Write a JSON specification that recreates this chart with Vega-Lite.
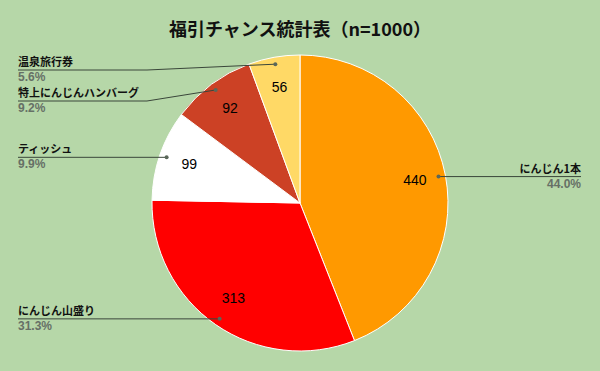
{
  "$schema": "https://vega.github.io/schema/vega-lite/v6.json",
  "width": 600,
  "height": 371,
  "autosize": {"type": "fit", "contains": "padding"},
  "padding": {"top": 22, "left": 0, "right": 0, "bottom": 0},
  "background": "#b6d7a8",
  "title": {"text": "福引チャンス統計表（n=1000）", "fontSize": 18, "fontWeight": "bold", "font": "Noto Sans CJK JP", "color": "#111111", "offset": -5},
  "config": {"view": {"stroke": null}},
  "data": {"values": [
    {"k": 1, "item": "にんじん1本", "value": 440},
    {"k": 2, "item": "にんじん山盛り", "value": 313},
    {"k": 3, "item": "ティッシュ", "value": 99},
    {"k": 4, "item": "特上にんじんハンバーグ", "value": 92},
    {"k": 5, "item": "温泉旅行券", "value": 56}
  ]},
  "transform": [
    {"joinaggregate": [{"op": "sum", "field": "value", "as": "total"}]},
    {"window": [{"op": "sum", "field": "value", "as": "cum"}], "sort": [{"field": "k"}], "frame": [null, 0]},
    {"calculate": "(datum.cum - datum.value/2)/datum.total*2*PI", "as": "mid"},
    {"calculate": "datum.value/datum.total", "as": "pct"},
    {"calculate": "141*sin(datum.mid)", "as": "dx"},
    {"calculate": "141*cos(datum.mid)", "as": "dy"},
    {"calculate": "min(datum.dy, 133)", "as": "cl"},
    {"window": [{"op": "lag", "field": "cl", "as": "upcl"}, {"op": "lag", "field": "dx", "as": "updx"}], "sort": [{"field": "k", "order": "descending"}]},
    {"calculate": "datum.upcl != null && datum.dx < 0 && datum.updx < 0 ? min(datum.cl, datum.upcl - 31) : datum.cl", "as": "ly"},
    {"calculate": "datum.dx > 0 ? 153 : -153", "as": "ex"},
    {"calculate": "datum.dx > 0 ? 281 : -282", "as": "tx"}
  ],
  "layer": [
    {
      "mark": {"type": "arc", "outerRadius": 148, "stroke": "#ffffff", "strokeWidth": 1},
      "encoding": {
        "theta": {"field": "value", "type": "quantitative", "stack": true},
        "order": {"field": "k", "type": "quantitative"},
        "color": {"field": "item", "type": "nominal", "legend": null,
          "scale": {"domain": ["にんじん1本", "にんじん山盛り", "ティッシュ", "特上にんじんハンバーグ", "温泉旅行券"],
                    "range": ["#ff9900", "#ff0000", "#ffffff", "#cc4125", "#ffd966"]}}
      }
    },
    {
      "mark": {"type": "text", "radius": 117, "fontSize": 14, "font": "Liberation Sans", "color": "#000000"},
      "encoding": {
        "theta": {"field": "value", "type": "quantitative", "stack": true},
        "order": {"field": "k", "type": "quantitative"},
        "text": {"field": "value", "type": "quantitative"}
      }
    },
    {
      "mark": {"type": "rule", "color": "#3a463a", "strokeWidth": 1},
      "encoding": {
        "x": {"field": "dx", "type": "quantitative", "scale": {"domain": [-300, 300], "nice": false, "zero": false}, "axis": null},
        "y": {"field": "dy", "type": "quantitative", "scale": {"domain": [-168, 168], "nice": false, "zero": false}, "axis": null},
        "x2": {"field": "ex"},
        "y2": {"field": "ly"}
      }
    },
    {
      "mark": {"type": "rule", "color": "#3a463a", "strokeWidth": 1},
      "encoding": {
        "x": {"field": "ex", "type": "quantitative", "scale": {"domain": [-300, 300], "nice": false, "zero": false}, "axis": null},
        "y": {"field": "ly", "type": "quantitative", "scale": {"domain": [-168, 168], "nice": false, "zero": false}, "axis": null},
        "x2": {"field": "tx"}
      }
    },
    {
      "mark": {"type": "point", "filled": true, "size": 16, "color": "#5a675a", "opacity": 1},
      "encoding": {
        "x": {"field": "dx", "type": "quantitative", "scale": {"domain": [-300, 300], "nice": false, "zero": false}, "axis": null},
        "y": {"field": "dy", "type": "quantitative", "scale": {"domain": [-168, 168], "nice": false, "zero": false}, "axis": null}
      }
    },
    {
      "transform": [{"filter": "datum.dx > 0"}],
      "mark": {"type": "text", "align": "right", "baseline": "alphabetic", "dy": -4, "fontSize": 11, "fontWeight": "bold", "font": "Noto Sans CJK JP", "color": "#111111"},
      "encoding": {
        "x": {"field": "tx", "type": "quantitative", "scale": {"domain": [-300, 300], "nice": false, "zero": false}, "axis": null},
        "y": {"field": "ly", "type": "quantitative", "scale": {"domain": [-168, 168], "nice": false, "zero": false}, "axis": null},
        "text": {"field": "item", "type": "nominal"}
      }
    },
    {
      "transform": [{"filter": "datum.dx < 0"}],
      "mark": {"type": "text", "align": "left", "baseline": "alphabetic", "dy": -4, "fontSize": 11, "fontWeight": "bold", "font": "Noto Sans CJK JP", "color": "#111111"},
      "encoding": {
        "x": {"field": "tx", "type": "quantitative", "scale": {"domain": [-300, 300], "nice": false, "zero": false}, "axis": null},
        "y": {"field": "ly", "type": "quantitative", "scale": {"domain": [-168, 168], "nice": false, "zero": false}, "axis": null},
        "text": {"field": "item", "type": "nominal"}
      }
    },
    {
      "transform": [{"filter": "datum.dx > 0"}],
      "mark": {"type": "text", "align": "right", "baseline": "top", "dy": 2, "fontSize": 12, "fontWeight": "bold", "font": "Liberation Sans", "color": "#667066"},
      "encoding": {
        "x": {"field": "tx", "type": "quantitative", "scale": {"domain": [-300, 300], "nice": false, "zero": false}, "axis": null},
        "y": {"field": "ly", "type": "quantitative", "scale": {"domain": [-168, 168], "nice": false, "zero": false}, "axis": null},
        "text": {"field": "pct", "type": "quantitative", "format": ".1%"}
      }
    },
    {
      "transform": [{"filter": "datum.dx < 0"}],
      "mark": {"type": "text", "align": "left", "baseline": "top", "dy": 2, "fontSize": 12, "fontWeight": "bold", "font": "Liberation Sans", "color": "#667066"},
      "encoding": {
        "x": {"field": "tx", "type": "quantitative", "scale": {"domain": [-300, 300], "nice": false, "zero": false}, "axis": null},
        "y": {"field": "ly", "type": "quantitative", "scale": {"domain": [-168, 168], "nice": false, "zero": false}, "axis": null},
        "text": {"field": "pct", "type": "quantitative", "format": ".1%"}
      }
    }
  ]
}
